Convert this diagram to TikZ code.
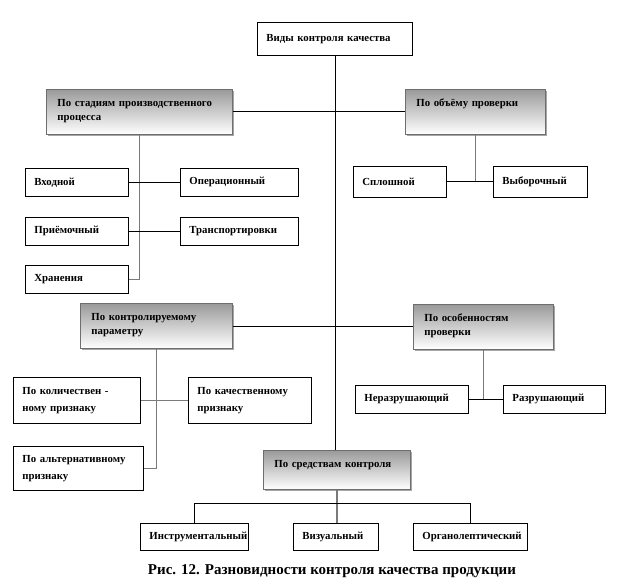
\documentclass[tikz,border=0pt]{standalone}
\usepackage{fontspec}
\setmainfont{Liberation Serif}
\usetikzlibrary{positioning,shadows}
\definecolor{kqframe}{HTML}{6E6E6E}
\definecolor{kqstem}{HTML}{7A7A7A}
\definecolor{kqshade}{HTML}{9A9A9A}
\tikzset{
  kindbox/.style={draw=black,line width=0.8pt,fill=white,anchor=north west,
    inner xsep=9pt,inner ysep=0pt,align=left,font=\fontsize{10.8}{13}\selectfont\bfseries},
  groupbox/.style={draw=kqframe,line width=0.8pt,top color=kqshade,bottom color=white,
    drop shadow={shadow xshift=2pt,shadow yshift=-2pt,fill=gray!70,opacity=1},
    anchor=north west,inner xsep=11pt,inner ysep=9pt,text height=8pt,text depth=19pt,
    align=left,font=\fontsize{10.8}{14}\selectfont\bfseries},
  kindlink/.style={draw=black,line width=0.8pt},
  kindstem/.style={draw=kqstem,line width=1.3pt},
}
\begin{document}
\begin{tikzpicture}[x=1pt,y=-1pt]
  \useasboundingbox (0,0) rectangle (624,588);
  % white boxes
  \foreach \n/\x/\y/\w/\h/\t [evaluate=\w as \tw using \w-18] in {
      top/257/22/155/33/{Виды контроля качества},
      input/25/168/103/28/{Входной},
      oper/180/168/118/28/{Операционный},
      accept/25/217/103/28/{Приёмочный},
      transp/180/217/118/28/{Транспортировки},
      store/25/265/103/28/{Хранения},
      solid/353/166/93/31/{Сплошной},
      sample/493/166/94/31/{Выборочный},
      qty/13/377/127/46/{По количествен -\\[4pt]ному признаку},
      qual/188/377/123/46/{По качественному\\[4pt]признаку},
      alt/13/446/130/44/{По альтернативному\\[4pt]признаку},
      ndt/355/385/113/28/{Неразрушающий},
      dt/503/385/102/28/{Разрушающий},
      instr/140/523/108/27/{Инструментальный},
      visual/293/523/85/27/{Визуальный},
      organ/413/523/114/27/{Органолептический}}
    {\node[kindbox,text width=\tw pt,minimum height=\h pt] (\n) at (\x,\y) {\t};}
  % shaded group boxes
  \foreach \n/\x/\y/\w/\t [evaluate=\w as \tw using \w-22] in {
      stage/46/89/186/{По стадиям производственного\\процесса},
      volume/405/89/140/{По объёму проверки},
      param/80/303/152/{По контролируемому\\параметру},
      feature/413/304/140/{По особенностям\\проверки}}
    {\node[groupbox,text width=\tw pt] (\n) at (\x,\y) {\t};}
  \node[groupbox,text width=125pt,text depth=13pt] (means) at (263,450) {По средствам контроля};
  \coordinate (fork) at ([yshift=-14pt]means.south);
  % connectors
  \draw[kindlink] (top.south) -- (top.south |- means.north);
  \draw[kindlink] (stage.east) -- (volume.west);
  \draw[kindstem] (stage.south) |- (store.east);
  \draw[kindlink] (input.east) -- (oper.west);
  \draw[kindlink] (accept.east) -- (transp.west);
  \draw[kindstem] (volume.south) -- (volume.south |- solid.east);
  \draw[kindlink] (solid.east) -- (sample.west);
  \draw[kindlink] (param.east) -- (param.east -| feature.west);
  \draw[kindstem] (param.south) |- (alt.east);
  \draw[kindstem] (qty.east) -- (qual.west);
  \draw[kindstem] (feature.south) -- (feature.south |- ndt.east);
  \draw[kindlink] (ndt.east) -- (dt.west);
  \draw[kindstem] (means.south) -- (means.south |- visual.north);
  \draw[kindlink] (instr.north) |- (fork) -| (organ.north);
  \node[font=\fontsize{15}{18}\selectfont\bfseries] (caption) at (332,571)
    {Рис. 12. Разновидности контроля качества продукции};
\end{tikzpicture}
\end{document}
